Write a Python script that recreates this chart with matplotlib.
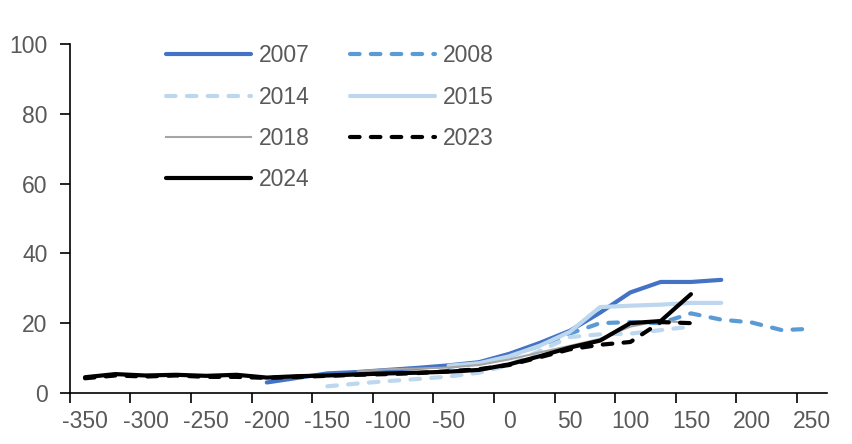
import numpy as np
import matplotlib
matplotlib.use('Agg')
import matplotlib.pyplot as plt

plt.rcParams['font.family'] = ['Liberation Sans', 'DejaVu Sans']

nan = np.nan

# categories (spread, bp) - every 25
cats = list(range(-350, 251, 25))
labels = [str(c) for c in range(-350, 251, 50)]

y2007 = [nan, nan, nan, nan, nan, nan, 3.0, 4.3, 5.6, 6.0, 6.6, 7.2, 7.9, 8.8, 11.2, 14.3, 17.8, 23.0, 28.8, 31.8, 31.8, 32.4, nan, nan, nan]
y2008 = [nan, nan, nan, nan, nan, nan, nan, nan, nan, nan, nan, nan, 7.5, 8.5, 10.5, 13.5, 17.0, 20.0, 20.3, 20.0, 22.8, 21.0, 20.2, 18.0, 18.4]
y2014 = [nan, nan, nan, nan, nan, nan, nan, nan, 1.9, 2.7, 3.4, 4.0, 4.7, 5.8, 8.0, 12.0, 16.0, 16.8, 17.0, 18.0, 19.0, nan, nan, nan, nan]
y2015 = [nan, nan, nan, nan, nan, nan, nan, nan, nan, nan, nan, nan, 7.8, 8.5, 10.5, 13.5, 17.5, 24.6, 25.0, 25.3, 25.8, 25.8, nan, nan, nan]
y2018 = [nan, nan, nan, nan, nan, nan, nan, nan, nan, 6.2, 6.8, 7.0, 7.3, 8.0, 9.6, 11.6, 13.5, 15.5, 19.0, 20.7, 20.0, nan, nan, nan, nan]
y2023 = [4.2, 5.0, 4.7, 5.0, 4.6, 4.6, 4.3, 4.6, 4.9, 5.2, 5.4, 5.7, 6.2, 6.8, 8.0, 10.2, 12.5, 13.8, 14.6, 20.3, 20.0, nan, nan, nan, nan]
y2024 = [4.5, 5.4, 5.0, 5.2, 4.9, 5.2, 4.4, 4.8, 5.0, 5.3, 5.6, 5.8, 6.1, 6.6, 8.2, 10.5, 13.0, 15.0, 20.0, 20.6, 28.3, nan, nan, nan, nan]

text_col = '#595959'

fig, ax = plt.subplots(figsize=(8.52, 4.44), dpi=100)
fig.subplots_adjust(left=0.082, right=0.971, bottom=0.115, top=0.901)

dash = dict(dashes=(2.3, 2.7), dash_capstyle='round')
l07, = ax.plot(cats, y2007, color='#4472C4', lw=3, label='2007', solid_capstyle='round')
l08, = ax.plot(cats, y2008, color='#5B9BD5', lw=3, label='2008', **dash)
l14, = ax.plot(cats, y2014, color='#BDD7EE', lw=3, label='2014', **dash)
l15, = ax.plot(cats, y2015, color='#BDD7EE', lw=3, label='2015', solid_capstyle='round')
l18, = ax.plot(cats, y2018, color='#A5A5A5', lw=1.5, label='2018')
l23, = ax.plot(cats, y2023, color='black', lw=3, label='2023', **dash)
l24, = ax.plot(cats, y2024, color='black', lw=3, label='2024', solid_capstyle='round')

ax.set_xlim(-362.5, 262.5)
ax.set_ylim(0, 100)
ax.set_yticks(range(0, 101, 20))

# ticks between categories, labels on category centres
ax.set_xticks(np.arange(-362.5, 262.5, 50))
ax.set_xticklabels([])
ax.set_xticks(range(-350, 251, 50), minor=True)
ax.set_xticklabels(labels, minor=True)
ax.tick_params(axis='x', which='major', length=7, width=1.2, direction='out')
ax.tick_params(axis='x', which='minor', length=0, pad=12, labelsize=16.5, labelcolor=text_col)
ax.tick_params(axis='y', length=7, width=1.2, pad=9, labelsize=16.5, labelcolor=text_col)

for s in ['top', 'right']:
    ax.spines[s].set_visible(False)
for s in ['left', 'bottom']:
    ax.spines[s].set_linewidth(1.2)

# column-major order so rows read 2007/2008, 2014/2015, 2018/2023, 2024
handles = [l07, l14, l18, l24, l08, l15, l23]
ax.legend(handles, [h.get_label() for h in handles], ncol=2, frameon=False,
          loc='upper left', bbox_to_anchor=(0.10, 1.058),
          fontsize=16.5, labelcolor=text_col, handlelength=3.7, handletextpad=0.35,
          columnspacing=1.75, labelspacing=0.8)

fig.savefig('out.png', dpi=100)
